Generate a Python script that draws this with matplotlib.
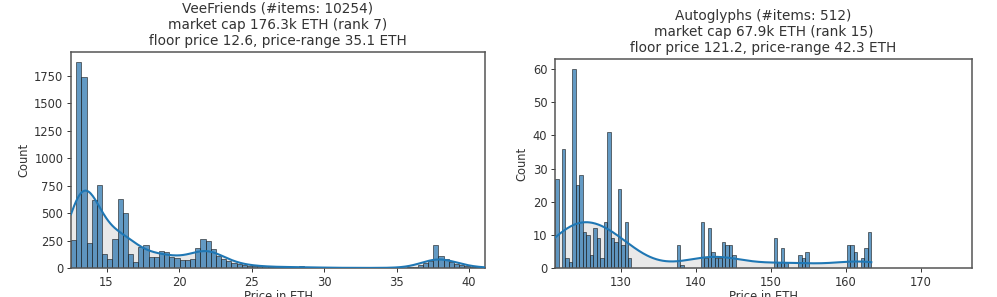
import numpy as np
import matplotlib
matplotlib.use("Agg")
import matplotlib.pyplot as plt

# ---------------- data ----------------
left_title = "VeeFriends (#items: 10254)\nmarket cap 176.3k ETH (rank 7)\nfloor price 12.6, price-range 35.1 ETH"
left_lo, left_hi, left_nbins = 12.55, 41.1, 80
left_counts = [253, 1872, 1738, 228, 618, 755, 130, 85, 265, 627,
               505, 130, 55, 190, 210, 100, 100, 155, 150, 100,
               95, 70, 70, 85, 185, 265, 245, 170, 110, 80,
               60, 45, 35, 28, 22, 18, 15, 15, 12, 10,
               8, 8, 6, 5, 20, 5, 6, 4, 3, 2,
               2, 2, 2, 1, 1, 1, 1, 1, 1, 1,
               1, 1, 1, 2, 2, 5, 10, 25, 45, 60,
               210, 110, 80, 55, 40, 25, 15, 10, 6, 4]
left_xticks = [15, 20, 25, 30, 35, 40]
left_yticks = [0, 250, 500, 750, 1000, 1250, 1500, 1750]

right_title = "Autoglyphs (#items: 512)\nmarket cap 67.9k ETH (rank 15)\nfloor price 121.2, price-range 42.3 ETH"
right_lo, right_hi, right_nbins = 121.27, 176.77, 120
right_counts = [27, 0, 36, 3, 2, 60, 25, 28, 11, 10,
                4, 12, 9, 3, 14, 41, 9, 8, 24, 7,
                14, 3, 0, 0, 0, 0, 0, 0, 0, 0,
                0, 0, 0, 0, 0, 7, 1, 0, 0, 0,
                0, 0, 14, 3, 12, 5, 3, 3, 8, 7,
                7, 4, 0, 0, 0, 0, 0, 0, 0, 0,
                0, 0, 0, 9, 2, 6, 2, 0, 0, 0,
                4, 3, 5, 0, 0, 0, 0, 0, 0, 0,
                0, 0, 0, 0, 7, 7, 5, 0, 3, 6,
                11]
right_xticks = [130, 140, 150, 160, 170]
right_yticks = [0, 10, 20, 30, 40, 50, 60]

BLUE = "#1f77b4"


def weighted_kde(centers, weights, grid):
    w = np.asarray(weights, float)
    n = w.sum()
    mean = np.sum(w * centers) / n
    std = np.sqrt(np.sum(w * (centers - mean) ** 2) / n)
    bw = std * n ** (-1 / 5)
    z = (grid[:, None] - centers[None, :]) / bw
    dens = (w[None, :] * np.exp(-0.5 * z ** 2)).sum(axis=1) / (n * bw * np.sqrt(2 * np.pi))
    return dens, n


def draw(ax, title, lo, hi, nbins, counts, xticks, yticks):
    edges = np.linspace(lo, hi, nbins + 1)
    counts = np.asarray(counts, float)
    k = len(counts)
    centers = 0.5 * (edges[:k] + edges[1:k + 1])
    width = edges[1] - edges[0]
    ax.hist(centers, bins=edges[:k + 1], weights=counts, color="#2f78b0", alpha=0.75,
            edgecolor="#1a1a1a", linewidth=0.55, zorder=2)
    nz = np.nonzero(counts)[0]
    grid = np.linspace(edges[nz[0]], edges[nz[-1] + 1], 400)
    dens, n = weighted_kde(centers, counts, grid)
    yk = dens * n * width
    ax.fill_between(grid, 0, yk, color="0.86", alpha=0.6, zorder=1, linewidth=0)
    ax.plot(grid, yk, color=BLUE, lw=1.5, zorder=3)
    ax.set_xlim(lo, hi)
    ax.set_ylim(0, counts.max() * 1.05)
    ax.set_xticks(xticks)
    ax.set_yticks(yticks)
    ax.tick_params(labelsize=8.3, length=3, width=0.7, colors="#333333", pad=2.5)
    for s in ax.spines.values():
        s.set_color("#555555")
        s.set_linewidth(1.1)
    ax.set_title(title, fontsize=9.8, color="#333333", pad=5)
    ax.set_xlabel("Price in ETH", fontsize=8.3, color="#333333", labelpad=1)
    ax.set_ylabel("Count", fontsize=8.3, color="#333333", labelpad=3)


fig = plt.figure(figsize=(9.97, 2.97), dpi=100)
ax1 = fig.add_axes([0.0712, 0.0976, 0.4153, 0.7273])
ax2 = fig.add_axes([0.5567, 0.0966, 0.4183, 0.7047])
draw(ax1, left_title, left_lo, left_hi, left_nbins, left_counts, left_xticks, left_yticks)
draw(ax2, right_title, right_lo, right_hi, right_nbins, right_counts, right_xticks, right_yticks)
fig.savefig("out.png", dpi=100)
